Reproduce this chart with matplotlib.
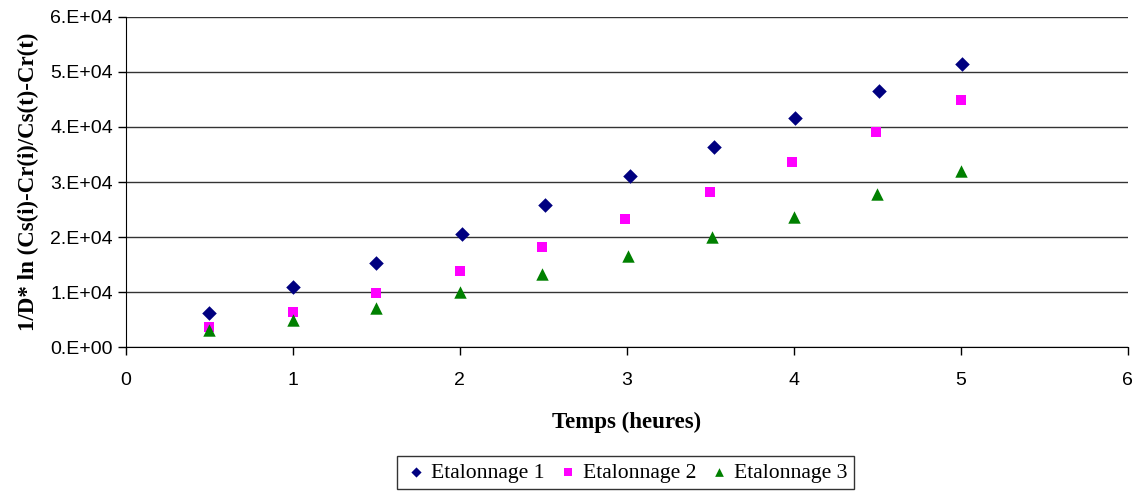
import matplotlib
matplotlib.use("Agg")
import matplotlib.pyplot as plt
from matplotlib.ticker import FixedLocator, FuncFormatter

# temps (heures) et valeurs
t1 = [0.50, 1.00, 1.50, 2.01, 2.51, 3.02, 3.52, 4.01, 4.51, 5.01]
e1 = [6280, 11000, 15350, 20560, 25830, 31090, 36350, 41560, 46500, 51400]

t2 = [0.50, 1.00, 1.50, 2.00, 2.49, 2.99, 3.50, 3.99, 4.49, 5.00]
e2 = [3740, 6460, 9800, 13900, 18260, 23230, 28190, 33680, 39130, 44940]

t3 = [0.50, 1.00, 1.50, 2.00, 2.49, 3.01, 3.51, 4.00, 4.50, 5.00]
e3 = [3140, 4950, 7190, 9980, 13250, 16570, 20070, 23700, 27820, 31940]

noms = ["Etalonnage 1", "Etalonnage 2", "Etalonnage 3"]
yticks = [0, 10000, 20000, 30000, 40000, 50000, 60000]

serif = ["Liberation Serif", "DejaVu Serif"]
sans = ["Liberation Sans", "DejaVu Sans"]

fig = plt.figure(figsize=(11.37, 4.93), dpi=100)
ax = fig.add_axes([0.1108, 0.2955, 0.881, 0.6705])

ax.scatter(t1, e1, marker="D", s=55, color="#000080", label=noms[0], zorder=3, linewidths=0)
ax.scatter(t2, e2, marker="s", s=55, color="#FF00FF", label=noms[1], zorder=3, linewidths=0)
ax.scatter(t3, e3, marker="^", s=80, color="#008000", label=noms[2], zorder=3, linewidths=0)

ax.set_xlim(0, 6)
ax.set_ylim(0, 60000)
ax.xaxis.set_major_locator(FixedLocator([0, 1, 2, 3, 4, 5, 6]))
ax.yaxis.set_major_locator(FixedLocator(yticks))
ax.yaxis.set_major_formatter(FuncFormatter(lambda v, p: "%d.E+%02d" % (v // 10000, 4 if v else 0)))

ax.grid(axis="y", color="#333333", lw=1)
ax.set_axisbelow(True)
for s in ["top", "right"]:
    ax.spines[s].set_visible(False)
ax.spines["left"].set_color("black")
ax.spines["bottom"].set_color("black")
ax.tick_params(direction="out", length=6, width=1, colors="black", labelsize=14)
ax.tick_params(axis="x", pad=12)
for lab in ax.get_xticklabels() + ax.get_yticklabels():
    lab.set_family(sans)

ax.set_xlabel("Temps (heures)", family=serif, fontweight="bold", fontsize=16.5, labelpad=16)
ax.set_ylabel("1/D* ln (Cs(i)-Cr(i)/Cs(t)-Cr(t)", family=serif, fontweight="bold", fontsize=16.5, labelpad=8)

leg = fig.legend(loc="upper center", bbox_to_anchor=(0.55, 0.075), ncol=3, frameon=True,
                 prop={"family": serif, "size": 15.6}, fancybox=False, handletextpad=0.1,
                 columnspacing=0.45, borderpad=0.3, handlelength=1.2, scatterpoints=1,
                 markerscale=0.7, borderaxespad=0)
leg.get_frame().set_edgecolor("black")
leg.get_frame().set_linewidth(1)

fig.savefig("out.png", dpi=100)
